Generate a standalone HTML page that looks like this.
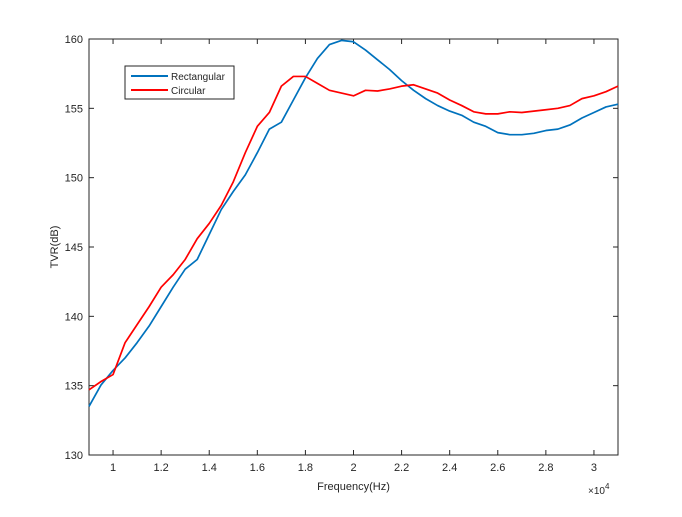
<!DOCTYPE html>
<html><head><meta charset="utf-8"><style>
body{margin:0;background:#fff;}
svg text{font-family:"Liberation Sans",sans-serif;fill:#262626;}
</style></head><body>
<svg id="chart" width="682" height="512" xmlns="http://www.w3.org/2000/svg">
<rect width="682" height="512" fill="#fff"/>
<g id="plot"></g>
</svg>
<script>
const freqs=[9000,9500,10000,10500,11000,11500,12000,12500,13000,13500,14000,14500,15000,15500,16000,16500,17000,17500,18000,18500,19000,19500,20000,20500,21000,21500,22000,22500,23000,23500,24000,24500,25000,25500,26000,26500,27000,27500,28000,28500,29000,29500,30000,30500,31000];
const rectangular=[133.5,135.05,136.1,137.0,138.1,139.3,140.7,142.1,143.4,144.1,145.9,147.7,149.0,150.2,151.8,153.5,154.0,155.6,157.2,158.6,159.6,159.9,159.8,159.2,158.5,157.8,157.0,156.3,155.7,155.2,154.8,154.5,154.0,153.7,153.25,153.1,153.1,153.2,153.4,153.5,153.8,154.3,154.7,155.1,155.3];
const circular=[134.7,135.3,135.8,138.1,139.4,140.7,142.1,143.0,144.1,145.6,146.7,148.0,149.7,151.8,153.7,154.7,156.6,157.3,157.3,156.8,156.3,156.1,155.9,156.3,156.25,156.4,156.6,156.7,156.4,156.1,155.6,155.2,154.75,154.6,154.6,154.75,154.7,154.8,154.9,155.0,155.2,155.7,155.9,156.2,156.6];
const xTicks=[1,1.2,1.4,1.6,1.8,2,2.2,2.4,2.6,2.8,3];
const yTicks=[130,135,140,145,150,155,160];
const L=89,R=618,T=39,B=455,xmin=9000,xmax=31000,ymin=130,ymax=160;
const X=f=>L+(f-xmin)/(xmax-xmin)*(R-L);
const Y=v=>B-(v-ymin)/(ymax-ymin)*(B-T);
const NS="http://www.w3.org/2000/svg";
const g=document.getElementById('plot');
function mk(tag,attrs,parent){const e=document.createElementNS(NS,tag);for(const k in attrs)e.setAttribute(k,attrs[k]);(parent||g).appendChild(e);return e;}
const box=mk('rect',{x:L,y:T,width:R-L,height:B-T,fill:'#fff',stroke:'#262626','stroke-width':1});


xTicks.forEach(t=>{const x=X(t*10000);
 const a=mk('line',{x1:x,x2:x,y1:B,y2:B-5,stroke:'#262626'});
 
 
 const b=mk('line',{x1:x,x2:x,y1:T,y2:T+5,stroke:'#262626'});
 
 
 const tx=mk('text',{x:x,y:B+16,'text-anchor':'middle','font-size':11});tx.textContent=String(t);
 
 
});
yTicks.forEach(t=>{const y=Y(t);
 const a=mk('line',{x1:L,x2:L+5,y1:y,y2:y,stroke:'#262626'});
 
 
 const b=mk('line',{x1:R,x2:R-5,y1:y,y2:y,stroke:'#262626'});
 
 
 const tx=mk('text',{x:L-6,y:y+4,'text-anchor':'end','font-size':11});tx.textContent=String(t);
 
 
});
function line(vals,color,name){
 const p=mk('polyline',{points:vals.map((v,i)=>X(freqs[i])+','+Y(v)).join(' '),fill:'none',stroke:color,'stroke-width':1.7,'stroke-linejoin':'round'});
 
 
}
line(rectangular,'#0072BD','rectangular-line');
line(circular,'#FF0000','circular-line');
const xl=mk('text',{x:(L+R)/2,y:490,'text-anchor':'middle','font-size':11});xl.textContent='Frequency(Hz)';


const yl=mk('text',{x:0,y:0,'text-anchor':'middle','font-size':11,transform:'translate(58,'+((T+B)/2)+') rotate(-90)'});yl.textContent='TVR(dB)';


const ex=mk('text',{x:588,y:494,'font-size':10});ex.innerHTML='×10<tspan dy="-5" font-size="8">4</tspan>';


const lg=mk('g',{});


mk('rect',{x:125,y:66,width:109,height:33,fill:'#fff',stroke:'#262626','stroke-width':1},lg);
[['Rectangular','#0072BD',76],['Circular','#FF0000',90]].forEach(([n,c,y])=>{
 const e=mk('g',{},lg);
 
 
 mk('line',{x1:131,x2:168,y1:y,y2:y,stroke:c,'stroke-width':2},e);
 const t=mk('text',{x:171,y:y+4,'font-size':10},e);t.textContent=n;
});
</script>
</body></html>
